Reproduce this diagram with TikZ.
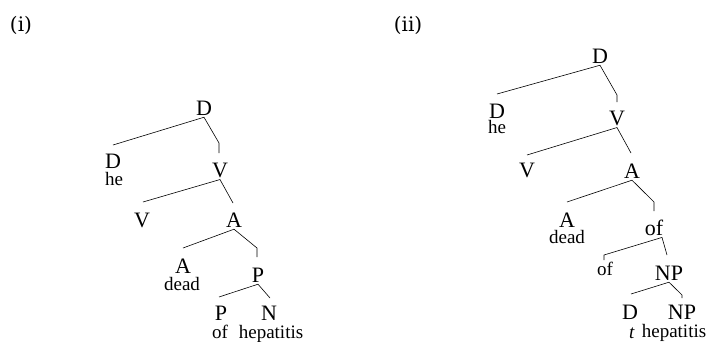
\documentclass[tikz,border=0pt]{standalone}
\usepackage{fontspec}
\setmainfont{Liberation Serif}
\newfontfamily\etifont{DejaVu Serif}
\begin{document}
\begin{tikzpicture}[x=1pt,y=-1pt,
    cat/.style={inner sep=0pt,anchor=base,font=\fontsize{22}{22}\selectfont},
    parola/.style={inner sep=0pt,anchor=base,font=\fontsize{19}{19}\selectfont},
    eti/.style={inner sep=0pt,anchor=base,font=\etifont\fontsize{20}{20}\selectfont},
    ramo/.style={line width=0.6pt}]
    \useasboundingbox (0,0) rectangle (715,341);
    %etichette
    \node[eti] (etiI) at (21,31) {(i)};
    \node[eti] (etiII) at (408,31) {(ii)};
    %albero (i)
    \node[cat] (dI) at (204,115) {D};
    \node[cat] (dheI) at (113,168) {D};
    \node[parola] (heI) at (114,185) {he};
    \node[cat] (vI) at (220,177) {V};
    \node[cat] (vvI) at (142,227) {V};
    \node[cat] (aI) at (234,227) {A};
    \node[cat] (adeadI) at (183,273) {A};
    \node[parola] (deadI) at (182,290) {dead};
    \node[cat] (pI) at (258,282) {P};
    \node[cat] (pofI) at (221,320) {P};
    \node[parola] (ofI) at (220,338) {of};
    \node[cat] (nI) at (269,320) {N};
    \node[parola] (hepI) at (271,338) {hepatitis};
    %rami (i)
    \coordinate (dheI-c) at (113,145);
    \coordinate (vI-c) at (219,143);
    \coordinate (vvI-c) at (143,202);
    \coordinate (aI-c) at (233,203);
    \coordinate (adeadI-c) at (183,248);
    \coordinate (pI-c) at (257,248);
    \coordinate (pofI-c) at (219,297);
    \coordinate (nI-c) at (270,298);
    \draw[ramo](dheI-c)--([yshift=-2pt]dI.south)--(vI-c)--++(0,10);
    \draw[ramo](vvI-c)--([yshift=-2pt]vI.south)--(aI-c);
    \draw[ramo](adeadI-c)--([yshift=-2pt]aI.south)--(pI-c)--++(0,9);
    \draw[ramo](pofI-c)--([yshift=-2pt]pI.south)--(nI-c);
    %albero (ii)
    \node[cat] (dII) at (600,63) {D};
    \node[cat] (dheII) at (497,118) {D};
    \node[parola] (heII) at (497,133) {he};
    \node[cat] (vII) at (617,125) {V};
    \node[cat] (vvII) at (527,177) {V};
    \node[cat] (aII) at (632,178) {A};
    \node[cat] (adeadII) at (567,227) {A};
    \node[parola] (deadII) at (567,243) {dead};
    \node[cat] (ofII) at (654,235) {of};
    \node[parola] (ofofII) at (605,275) {of};
    \node[cat] (npII) at (669,280) {NP};
    \node[cat] (dtII) at (630,319) {D};
    \node[parola] (tII) at (632,338) {\textit{t}};
    \node[cat] (nphepII) at (682,319) {NP};
    \node[parola] (hepII) at (674,337) {hepatitis};
    %rami (ii)
    \coordinate (dheII-c) at (497,94);
    \coordinate (vII-c) at (617,95);
    \coordinate (vvII-c) at (527,155);
    \coordinate (aII-c) at (631,153);
    \coordinate (adeadII-c) at (567,202);
    \coordinate (ofII-c) at (654,202);
    \coordinate (ofofII-c) at (604,255);
    \coordinate (npII-c) at (667,255);
    \coordinate (dtII-c) at (631,294);
    \coordinate (nphepII-c) at (682,295);
    \draw[ramo](dheII-c)--([yshift=-2pt]dII.south)--(vII-c)--++(0,7);
    \draw[ramo](vvII-c)--([yshift=-2pt]vII.south)--(aII-c);
    \draw[ramo](adeadII-c)--([yshift=-2pt]aII.south)--(ofII-c)--++(0,9);
    \draw[ramo](ofofII-c)++(0,5)--(ofofII-c)--([xshift=8pt,yshift=-2pt]ofII.south)--(npII-c);
    \draw[ramo](dtII-c)--([yshift=-2pt]npII.south)--(nphepII-c)--++(0,3);
\end{tikzpicture}
\end{document}
